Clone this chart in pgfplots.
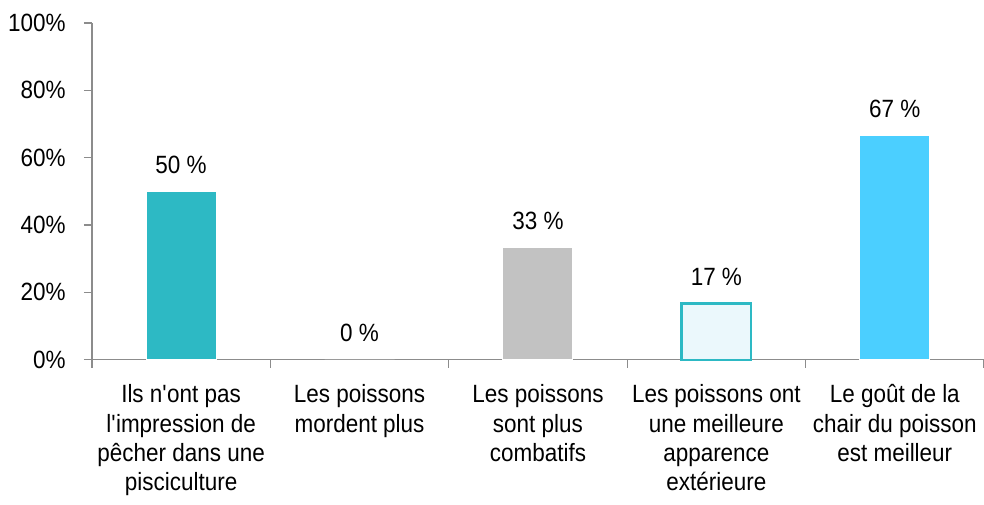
\documentclass[border=0pt]{standalone}
\usepackage{fontspec}
\setmainfont{Liberation Sans}[FakeStretch=0.9]
\usepackage{pgfplots}
\pgfplotsset{compat=1.18}
\definecolor{teal1}{HTML}{2DB9C4}
\definecolor{gray1}{HTML}{C2C2C2}
\definecolor{pale}{HTML}{EBF8FC}
\definecolor{sky}{HTML}{4BCFFF}
\definecolor{axisgray}{HTML}{8C8C8C}
\begin{document}
\begin{tikzpicture}
\begin{axis}[
  scale only axis, width=893pt, height=337pt,
  xmin=-0.5, xmax=4.5, ymin=0, ymax=100,
  axis x line*=bottom, axis y line*=left,
  axis line style={axisgray, line width=1.2pt},
  tick align=outside,
  tick style={axisgray, line width=1.2pt},
  major tick length=8pt,
  ytick={0,20,40,60,80,100},
  yticklabels={0\%,20\%,40\%,60\%,80\%,100\%},
  xtick={-0.5,0.5,1.5,2.5,3.5,4.5},
  xticklabels={},
  extra x ticks={0,1,2,3,4},
  extra x tick style={major tick length=0pt},
  extra x tick labels={{Ils n\textquotesingle ont pas\\l\textquotesingle impression de\\pêcher dans une\\pisciculture},
    {Les poissons\\mordent plus},
    {Les poissons\\sont plus\\combatifs},
    {Les poissons ont\\une meilleure\\apparence\\extérieure},
    {Le goût de la\\chair du poisson\\est meilleur}},
  ticklabel style={font=\fontsize{25}{29.3}\selectfont, text=black},
  xticklabel style={align=center, anchor=north, inner sep=0pt, yshift=-25pt},
  yticklabel style={inner sep=0pt, anchor=east, xshift=-18pt},
  /pgf/number format/assume math mode=true,
  nodes near coords={\pgfmathprintnumber[fixed,precision=0]{\pgfplotspointmeta}\ \%},
  every node near coord/.append style={font=\fontsize{25}{29.3}\selectfont, text=black, anchor=base, inner sep=0pt, yshift=18pt},
  clip=false,
]
\addplot[ybar, bar width=70pt, bar shift=0pt, fill=teal1, draw=white, line width=1pt] coordinates {(0,50)};
\addplot[ybar, bar width=70pt, bar shift=0pt, fill=white, draw=none] coordinates {(1,0)};
\addplot[ybar, bar width=70pt, bar shift=0pt, fill=gray1, draw=white, line width=1pt] coordinates {(2,33.3)};
\addplot[ybar, bar width=70pt, bar shift=0pt, fill=pale, draw=teal1, line width=2.2pt] coordinates {(3,16.7)};
\addplot[ybar, bar width=70pt, bar shift=0pt, fill=sky, draw=white, line width=1pt] coordinates {(4,66.7)};
\end{axis}
\pgfresetboundingbox
\path ([xshift=-92pt,yshift=-145pt]current axis.south west) rectangle ([xshift=0pt,yshift=23pt]current axis.north east);
\end{tikzpicture}
\end{document}
